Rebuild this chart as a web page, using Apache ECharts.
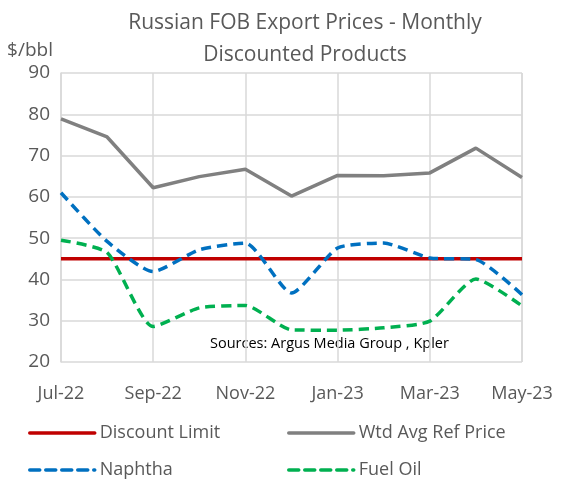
<!DOCTYPE html>
<html>
<head>
<meta charset="utf-8">
<script src="https://cdn.jsdelivr.net/npm/echarts@6/dist/echarts.min.js"></script>
<style>
  html, body { margin: 0; padding: 0; background: #fff; }
  #main { width: 566px; height: 484px; }
</style>
</head>
<body>
<div id="main"></div>
<script>
// months on the x axis
const months = ['Jul-22', 'Aug-22', 'Sep-22', 'Oct-22', 'Nov-22', 'Dec-22',
  'Jan-23', 'Feb-23', 'Mar-23', 'Apr-23', 'May-23'];
const discountLimit = [45, 45, 45, 45, 45, 45, 45, 45, 45, 45, 45];
const wtdAvgRefPrice = [78.9, 74.5, 62.2, 64.9, 66.7, 60.2, 65.2, 65.1, 65.8, 71.8, 64.7];
const naphtha = [61.0, 49.2, 41.9, 47.2, 48.8, 36.7, 47.6, 48.8, 45.2, 44.8, 36.3];
const fuelOil = [49.5, 46.5, 28.6, 33.1, 33.7, 27.8, 27.7, 28.3, 29.9, 40.1, 33.6];
const yTicks = [20, 30, 40, 50, 60, 70, 80, 90];

const FONT = 'Open Sans';
const TXT = '#595959';
const DASH = [10, 6];

const chart = echarts.init(document.getElementById('main'));

function line(name, data, color, type, smooth) {
  return {
    name: name,
    type: 'line',
    data: data,
    symbol: 'none',
    smooth: smooth,
    lineStyle: { color: color, width: 3.5, type: type },
    itemStyle: { color: color }
  };
}

// one legend per entry so the 2x2 layout can be placed exactly
function legendAt(name, left, top, dashed) {
  return {
    data: [name],
    left: left, top: top,
    padding: 0,
    itemWidth: 65, itemHeight: 12, itemGap: 0,
    itemStyle: { opacity: 0 },
    lineStyle: { width: 3.5, type: dashed ? DASH : 'solid', cap: 'round' },
    textStyle: { fontFamily: FONT, fontSize: 18, color: TXT, padding: [0, 0, 0, 0] }
  };
}

chart.setOption({
  animation: false,
  title: {
    text: 'Russian FOB Export Prices - Monthly\nDiscounted Products',
    left: 300,
    textAlign: 'center',
    top: 2,
    textStyle: { fontFamily: FONT, fontSize: 21, fontWeight: 'normal', color: TXT, lineHeight: 32 }
  },
  grid: { left: 61, right: 44, top: 73, bottom: 122 },
  legend: [
    legendAt('Discount Limit', 28, 424, false),
    legendAt('Wtd Avg Ref Price', 287, 424, false),
    legendAt('Naphtha', 28, 461, true),
    legendAt('Fuel Oil', 287, 461, true)
  ],
  xAxis: {
    type: 'category',
    data: months,
    boundaryGap: false,
    axisLine: { show: false },
    axisTick: { show: false },
    axisLabel: { interval: 1, fontFamily: FONT, fontSize: 18, color: TXT, margin: 23 },
    splitLine: { show: true, interval: 1, lineStyle: { color: '#d9d9d9', width: 1.5 } }
  },
  yAxis: {
    type: 'value',
    min: yTicks[0],
    max: yTicks[yTicks.length - 1],
    interval: 10,
    name: '$/bbl',
    nameLocation: 'end',
    nameGap: 13,
    nameTextStyle: { fontFamily: FONT, fontSize: 19, color: TXT, align: 'center', padding: [0, 0, 0, -62] },
    axisLine: { show: true, lineStyle: { color: '#d9d9d9', width: 1.5 } },
    axisTick: { show: false },
    axisLabel: { fontFamily: FONT, fontSize: 19, color: TXT, margin: 11 },
    splitLine: { show: true, lineStyle: { color: '#d9d9d9', width: 1.5 } }
  },
  graphic: [{
    type: 'text',
    left: 210, top: 336,
    style: { text: 'Sources: Argus Media Group , Kpler', fontFamily: FONT, fontSize: 14.5, fill: '#000' }
  }, {
    // right border of the plot
    type: 'rect',
    shape: { x: 522, y: 73, width: 0, height: 289 },
    style: { stroke: '#d9d9d9', lineWidth: 1.5, fill: 'none' }
  }],
  series: [
    line('Discount Limit', discountLimit, '#C00000', 'solid', false),
    line('Wtd Avg Ref Price', wtdAvgRefPrice, '#808080', 'solid', false),
    line('Naphtha', naphtha, '#0070C0', DASH, 0.2),
    line('Fuel Oil', fuelOil, '#00B050', DASH, 0.2)
  ]
});
</script>
</body>
</html>
